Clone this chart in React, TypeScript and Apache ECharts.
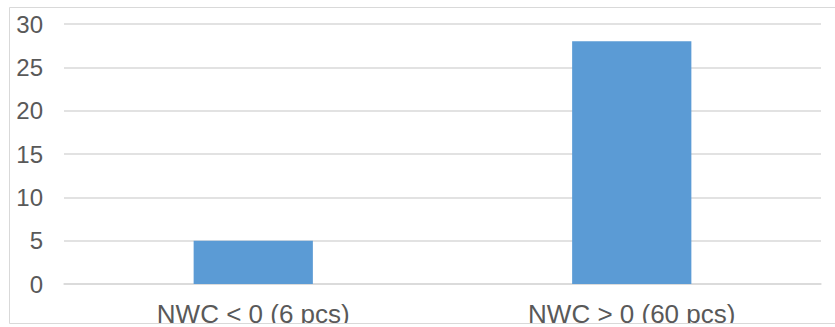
import React, { useEffect, useRef } from "react";
import * as echarts from "echarts";

const categories = ["NWC < 0 (6 pcs)", "NWC > 0 (60 pcs)"];
const values = [5, 28];
const yMin = 0;
const yMax = 30;
const yInterval = 5;

export default function App() {
  const ref = useRef<HTMLDivElement>(null);
  useEffect(() => {
    const chart = echarts.init(ref.current!, undefined, { renderer: "svg" });
    chart.setOption({
      animation: false,
      backgroundColor: "#ffffff",
      grid: { left: 64, right: 14, top: 24, bottom: 41, containLabel: false },
      graphic: [
        {
          type: "rect",
          shape: { x: 0, y: 324, width: 835, height: 10 },
          style: { fill: "#ffffff" },
          silent: true,
          z: 100,
        },
        {
          type: "rect",
          shape: { x: 9.5, y: 7.5, width: 840, height: 316 },
          style: { fill: "none", stroke: "#d9d9d9", lineWidth: 1 },
          silent: true,
          z: 101,
        },
      ],
      xAxis: {
        type: "category",
        data: categories,
        axisLine: { show: true, lineStyle: { color: "#d9d9d9", width: 1.5 } },
        axisTick: { show: false },
        axisLabel: {
          color: "#595959",
          fontSize: 26,
          fontFamily: "Liberation Sans, Arial, sans-serif",
          margin: 17,
        },
      },
      yAxis: {
        type: "value",
        min: yMin,
        max: yMax,
        interval: yInterval,
        axisLine: { show: false },
        axisTick: { show: false },
        splitLine: { lineStyle: { color: "#d9d9d9", width: 1.5 } },
        axisLabel: {
          color: "#595959",
          fontSize: 24,
          fontFamily: "Liberation Sans, Arial, sans-serif",
          margin: 21,
        },
      },
      series: [
        {
          type: "bar",
          data: values,
          barWidth: "31.5%",
          itemStyle: { color: "#5b9bd5" },
        },
      ],
    });
    return () => chart.dispose();
  }, []);
  return (
    <div
      ref={ref}
      style={{ position: "fixed", left: 0, top: 0, width: 835, height: 327 }}
    />
  );
}
